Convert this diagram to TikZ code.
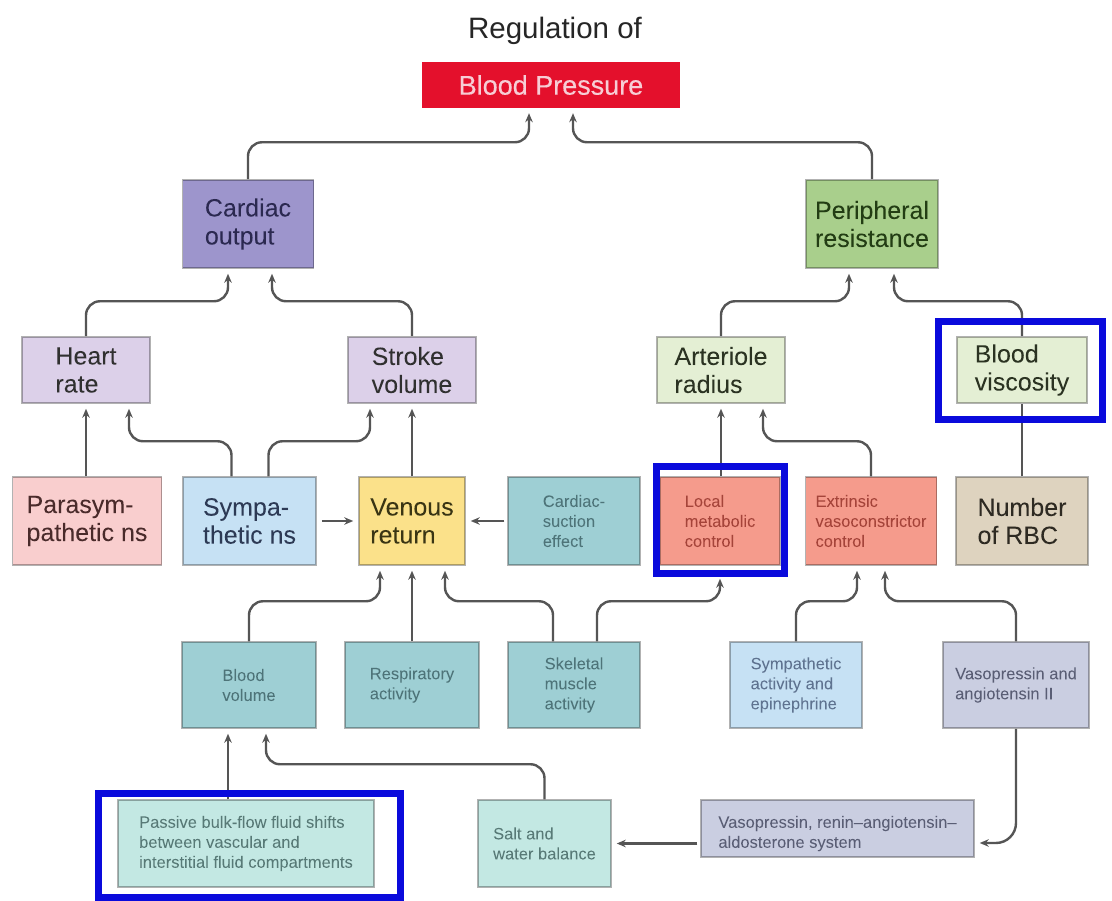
\documentclass[tikz,border=0pt]{standalone}
\usepackage{fontspec}
\setmainfont{Liberation Sans}
\newfontfamily\heavysans{Liberation Sans}[FakeBold=0.6,Ligatures=TeX]
\newfontfamily\midsans{Liberation Sans}[FakeBold=0.4,Ligatures=TeX]
\usetikzlibrary{arrows.meta}

% fills and text colours
\definecolor{bpRed}{HTML}{E4102C}
\definecolor{bpText}{HTML}{F7CDD5}
\definecolor{coFill}{HTML}{9D95CC}
\definecolor{coText}{HTML}{2B2950}
\definecolor{prFill}{HTML}{A9CF8C}
\definecolor{prText}{HTML}{233D14}
\definecolor{lavFill}{HTML}{DCD0E9}
\definecolor{lavText}{HTML}{303030}
\definecolor{pgFill}{HTML}{E4EFD4}
\definecolor{pgText}{HTML}{2B3322}
\definecolor{pnsFill}{HTML}{F9CECE}
\definecolor{pnsText}{HTML}{4A2B2B}
\definecolor{snsFill}{HTML}{C6E1F4}
\definecolor{snsText}{HTML}{2D3A55}
\definecolor{vrFill}{HTML}{FBE18A}
\definecolor{vrText}{HTML}{3A3514}
\definecolor{tealFill}{HTML}{9ECFD4}
\definecolor{tealText}{HTML}{4E7479}
\definecolor{salFill}{HTML}{F59B8C}
\definecolor{salText}{HTML}{A5443A}
\definecolor{rbcFill}{HTML}{DED3BF}
\definecolor{rbcText}{HTML}{2E2A22}
\definecolor{saeText}{HTML}{5F7390}
\definecolor{vaFill}{HTML}{CACEE1}
\definecolor{vaText}{HTML}{5A5E75}
\definecolor{ltFill}{HTML}{C3E8E3}
\definecolor{ltText}{HTML}{587A77}
\definecolor{frameBlue}{HTML}{0A0ADC}
\definecolor{connGray}{HTML}{555555}

\begin{document}
\begin{tikzpicture}[x=1pt,y=-1pt,
  box/.style={rectangle, draw=black, draw opacity=0.3, line width=1.5pt,
    inner sep=0pt, align=left},
  big/.style={font=\heavysans\fontsize{25}{28}\selectfont},
  small/.style={font=\midsans\fontsize{16.5}{20}\selectfont},
  conn/.style={draw=connGray, line width=2.4pt, rounded corners=14pt,
    -{Stealth[length=9pt,width=7.5pt]}, shorten >=5pt},
  plainline/.style={draw=connGray, line width=2.4pt},
  hilite/.style={draw=frameBlue, line width=7pt}
]
\useasboundingbox (0,0) rectangle (1112,901);
\fill[white] (0,0) rectangle (1112,901);

% title and top node
\node[font=\fontsize{29.5}{34}\selectfont, text=black!85, anchor=base] (title) at (555,39) {Regulation of};
\node[rectangle, fill=bpRed, minimum width=258pt, minimum height=46pt,
  font=\midsans\fontsize{27}{30}\selectfont, text=bpText] (bp) at (551,85) {Blood Pressure};

% level 1
\node[box, big, fill=coFill, text=coText, minimum width=131pt, minimum height=88pt] (co) at (248,224) {Cardiac\\output};
\node[box, big, fill=prFill, text=prText, minimum width=132pt, minimum height=88pt] (pr) at (872,224) {Peripheral\\resistance};

% level 2
\node[box, big, fill=lavFill, text=lavText, minimum width=128pt, minimum height=66pt] (hr) at (86,370) {Heart\\rate};
\node[box, big, fill=lavFill, text=lavText, minimum width=128pt, minimum height=66pt] (sv) at (412,370) {Stroke\\volume};
\node[box, big, fill=pgFill, text=pgText, minimum width=128pt, minimum height=66pt] (ar) at (721,370) {Arteriole\\radius};
\node[box, big, fill=pgFill, text=pgText, minimum width=130pt, minimum height=66pt] (visc) at (1022,370) {Blood\\viscosity};

% level 3
\node[box, big, fill=pnsFill, text=pnsText, minimum width=149pt, minimum height=88pt] (pns) at (87,521) {Parasym-\\pathetic ns};
\node[box, big, fill=snsFill, text=snsText, minimum width=133pt, minimum height=88pt] (sns) at (249.5,521) {Sympa-\\thetic ns};
\node[box, big, fill=vrFill, text=vrText, minimum width=106pt, minimum height=88pt] (vr) at (412,521) {Venous\\return};
\node[box, small, fill=tealFill, text=tealText, minimum width=132pt, minimum height=88pt] (cs) at (574,521) {Cardiac-\\suction\\effect};
\node[box, small, fill=salFill, text=salText, minimum width=120pt, minimum height=88pt] (lmc) at (720,521) {Local\\metabolic\\control};
\node[box, small, fill=salFill, text=salText, minimum width=131pt, minimum height=88pt] (evc) at (871,521) {Extrinsic\\vasoconstrictor\\control};
\node[box, big, fill=rbcFill, text=rbcText, minimum width=132pt, minimum height=88pt] (rbc) at (1022,521) {Number\\of RBC};

% level 4
\node[box, small, fill=tealFill, text=tealText, minimum width=134pt, minimum height=86pt] (bvol) at (249,685) {Blood\\volume};
\node[box, small, fill=tealFill, text=tealText, minimum width=134pt, minimum height=86pt] (ra) at (412,685) {Respiratory\\activity};
\node[box, small, fill=tealFill, text=tealText, minimum width=132pt, minimum height=86pt] (sma) at (574,685) {Skeletal\\muscle\\activity};
\node[box, small, fill=snsFill, text=saeText, minimum width=132pt, minimum height=86pt] (sae) at (796,685) {Sympathetic\\activity and\\epinephrine};
\node[box, small, fill=vaFill, text=vaText, minimum width=146pt, minimum height=86pt] (va2) at (1016,685) {Vasopressin and\\angiotensin II};

% level 5
\node[box, small, fill=ltFill, text=ltText, minimum width=256pt, minimum height=87pt] (pbf) at (246,843.5) {Passive bulk-flow fluid shifts\\between vascular and\\interstitial fluid compartments};
\node[box, small, fill=ltFill, text=ltText, minimum width=133pt, minimum height=87pt] (swb) at (544.5,843.5) {Salt and\\water balance};
\node[box, small, fill=vaFill, text=vaText, minimum width=273pt, minimum height=57pt, text height=42pt] (raas) at (837.5,828.5) {Vasopressin, renin–angiotensin–\\aldosterone system};

% connectors into blood pressure
\draw[conn] (co.north) -- ++(0,-37) -| ([xshift=-22pt]bp.south);
\draw[conn] (pr.north) -- ++(0,-37) -| ([xshift=22pt]bp.south);

% into cardiac output and peripheral resistance
\draw[conn] (hr.north) -- ++(0,-35) -| ([xshift=-20pt]co.south);
\draw[conn] (sv.north) -- ++(0,-35) -| ([xshift=24pt]co.south);
\draw[conn] (ar.north) -- ++(0,-35) -| ([xshift=-23pt]pr.south);
\draw[conn] (visc.north) -- ++(0,-35) -| ([xshift=22pt]pr.south);

% into level 2
\draw[conn] (hr.south |- pns.north) -- (hr.south);
\draw[conn] ([xshift=-18pt]sns.north) -- ++(0,-35) -| ([xshift=43pt]hr.south);
\draw[conn] ([xshift=19pt]sns.north) -- ++(0,-35) -| ([xshift=-42pt]sv.south);
\draw[conn] (vr.north) -- (sv.south);
\draw[conn] (ar.south |- lmc.north) -- (ar.south);
\draw[conn] (evc.north) -- ++(0,-35) -| ([xshift=42pt]ar.south);
\draw[plainline] (rbc.north) -- (visc.south);

% into venous return
\draw[conn, shorten <=5pt] (sns.east) -- (vr.west);
\draw[conn, shorten <=3pt] (cs.west) -- (vr.east);

% from level 4
\draw[conn] (bvol.north) -- ++(0,-40) -| ([xshift=-32pt]vr.south);
\draw[conn] (ra.north) -- (vr.south);
\draw[conn] ([xshift=-21pt]sma.north) -- ++(0,-40) -| ([xshift=33pt]vr.south);
\draw[conn, shorten >=13pt] ([xshift=23pt]sma.north) -- ++(0,-40) -| (lmc.south);
\draw[conn] (sae.north) -- ++(0,-40) -| ([xshift=-14pt]evc.south);
\draw[conn] (va2.north) -- ++(0,-40) -| ([xshift=14pt]evc.south);

% from level 5
\draw[conn] ([xshift=-21pt]bvol.south |- pbf.north) -- ([xshift=-21pt]bvol.south);
\draw[conn] (swb.north) -- ++(0,-35) -| ([xshift=17pt]bvol.south);
\draw[conn, rounded corners=20pt] (va2.south) |- ([yshift=-14.5pt]raas.east);
\draw[conn, shorten <=3pt] (raas.west |- swb.east) -- (swb.east);

% highlight frames
\draw[hilite] (938.5,321.5) rectangle (1102.5,419.5);
\draw[hilite] (656.5,466.5) rectangle (784.5,573.5);
\draw[hilite] (98.5,793.5) rectangle (400.5,897.5);
\end{tikzpicture}
\end{document}
